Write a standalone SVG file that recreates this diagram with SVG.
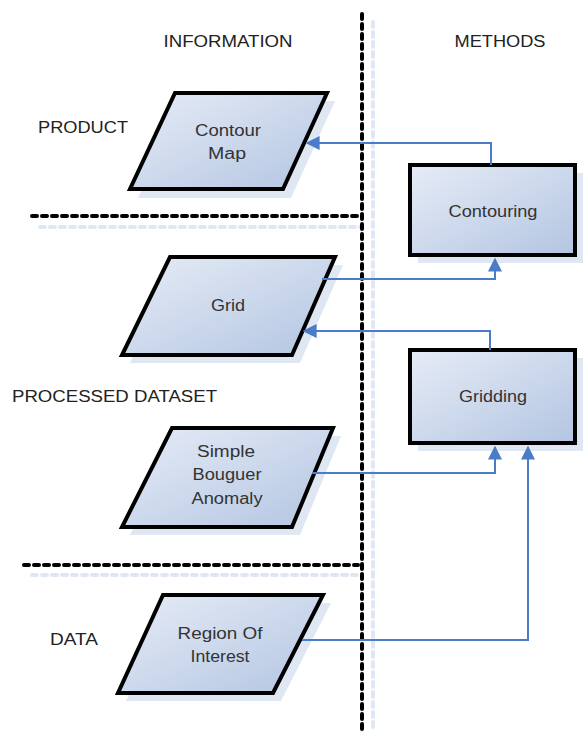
<svg xmlns="http://www.w3.org/2000/svg" width="584" height="731" viewBox="0 0 584 731">
<defs>
<linearGradient id="fillg" x1="0" y1="0" x2="1" y2="1">
<stop offset="0" stop-color="#e6ecf6"/>
<stop offset="1" stop-color="#b3c5e2"/>
</linearGradient>
<marker id="arr" viewBox="0 0 10 10" refX="9" refY="5" markerWidth="7" markerHeight="7" orient="auto" markerUnits="strokeWidth">
<path d="M0,0 L10,5 L0,10 z" fill="#4a7cc8"/>
</marker>
<style>
.shape{fill:url(#fillg);stroke:#000;stroke-width:4;stroke-linejoin:miter}
.shadow{fill:#dfe7f3}
.lbl{font-family:"Liberation Sans",Arial,sans-serif;font-size:16px;fill:#333;text-anchor:middle}
.hdr{font-family:"Liberation Sans",Arial,sans-serif;font-size:16px;fill:#222;text-anchor:middle}
.conn{fill:none;stroke:#4a7cc8;stroke-width:2}
.dash{stroke:#000;stroke-width:4;stroke-dasharray:5 5;stroke-linecap:round}
.dashsh{stroke:#dfe7f3;stroke-width:4;stroke-dasharray:5 5;stroke-linecap:round}
</style>
</defs>
<rect width="584" height="731" fill="#fff"/>
<g id="dividers">
<line class="dashsh" x1="373" y1="22" x2="373" y2="731"/>
<line class="dashsh" x1="40" y1="227" x2="362" y2="227"/>
<line class="dashsh" x1="32" y1="575" x2="362" y2="575"/>
<line class="dash" x1="362" y1="14" x2="362" y2="731"/>
<line class="dash" x1="32" y1="216" x2="360" y2="216"/>
<line class="dash" x1="24" y1="565" x2="358" y2="565"/>
</g>
<g id="headers">
<text class="hdr" x="228" y="47" textLength="129" lengthAdjust="spacingAndGlyphs">INFORMATION</text>
<text class="hdr" x="500" y="47" textLength="91" lengthAdjust="spacingAndGlyphs">METHODS</text>
<text class="hdr" x="83" y="133" textLength="90" lengthAdjust="spacingAndGlyphs">PRODUCT</text>
<text class="hdr" x="114.5" y="402" textLength="205" lengthAdjust="spacingAndGlyphs">PROCESSED DATASET</text>
<text class="hdr" x="74" y="645" textLength="48" lengthAdjust="spacingAndGlyphs">DATA</text>
</g>
<g id="contour-map">
<polygon class="shadow" points="183,101 335,101 291,198 138,198"/>
<polygon class="shape" points="175,93 327,93 283,189 130,189"/>
<text class="lbl" x="228" y="136" textLength="66" lengthAdjust="spacingAndGlyphs">Contour</text>
<text class="lbl" x="227" y="159" textLength="38" lengthAdjust="spacingAndGlyphs">Map</text>
</g>
<g id="grid">
<polygon class="shadow" points="178,265 343,265 300,363 130,363"/>
<polygon class="shape" points="170,257 335,257 292,355 122,355"/>
<text class="lbl" x="228" y="311" textLength="34" lengthAdjust="spacingAndGlyphs">Grid</text>
</g>
<g id="simple-bouguer-anomaly">
<polygon class="shadow" points="180,436 341,436 300,535 130,535"/>
<polygon class="shape" points="172,428 333,428 292,527 122,527"/>
<text class="lbl" x="226" y="457" textLength="58" lengthAdjust="spacingAndGlyphs">Simple</text>
<text class="lbl" x="227" y="480" textLength="69" lengthAdjust="spacingAndGlyphs">Bouguer</text>
<text class="lbl" x="227" y="504" textLength="71" lengthAdjust="spacingAndGlyphs">Anomaly</text>
</g>
<g id="region-of-interest">
<polygon class="shadow" points="171,603 331,603 281,701 126,701"/>
<polygon class="shape" points="163,595 323,595 273,693 118,693"/>
<text class="lbl" x="220" y="639" textLength="85" lengthAdjust="spacingAndGlyphs">Region Of</text>
<text class="lbl" x="220" y="662" textLength="59" lengthAdjust="spacingAndGlyphs">Interest</text>
</g>
<g id="contouring">
<rect class="shadow" x="418" y="173" width="165" height="90"/>
<rect class="shape" x="410" y="165" width="165" height="90"/>
<text class="lbl" x="493" y="217" textLength="89" lengthAdjust="spacingAndGlyphs">Contouring</text>
</g>
<g id="gridding">
<rect class="shadow" x="418" y="358" width="165" height="93"/>
<rect class="shape" x="410" y="350" width="165" height="93"/>
<text class="lbl" x="493" y="402" textLength="68" lengthAdjust="spacingAndGlyphs">Gridding</text>
</g>
<g id="connectors">
<polyline class="conn" points="491,165 491,143 307,143" marker-end="url(#arr)"/>
<polyline class="conn" points="322,279 495,279 495,259" marker-end="url(#arr)"/>
<polyline class="conn" points="490,350 490,331 304,331" marker-end="url(#arr)"/>
<polyline class="conn" points="312,473 495,473 495,447" marker-end="url(#arr)"/>
<polyline class="conn" points="302,640 528,640 528,447" marker-end="url(#arr)"/>
</g>
</svg>
